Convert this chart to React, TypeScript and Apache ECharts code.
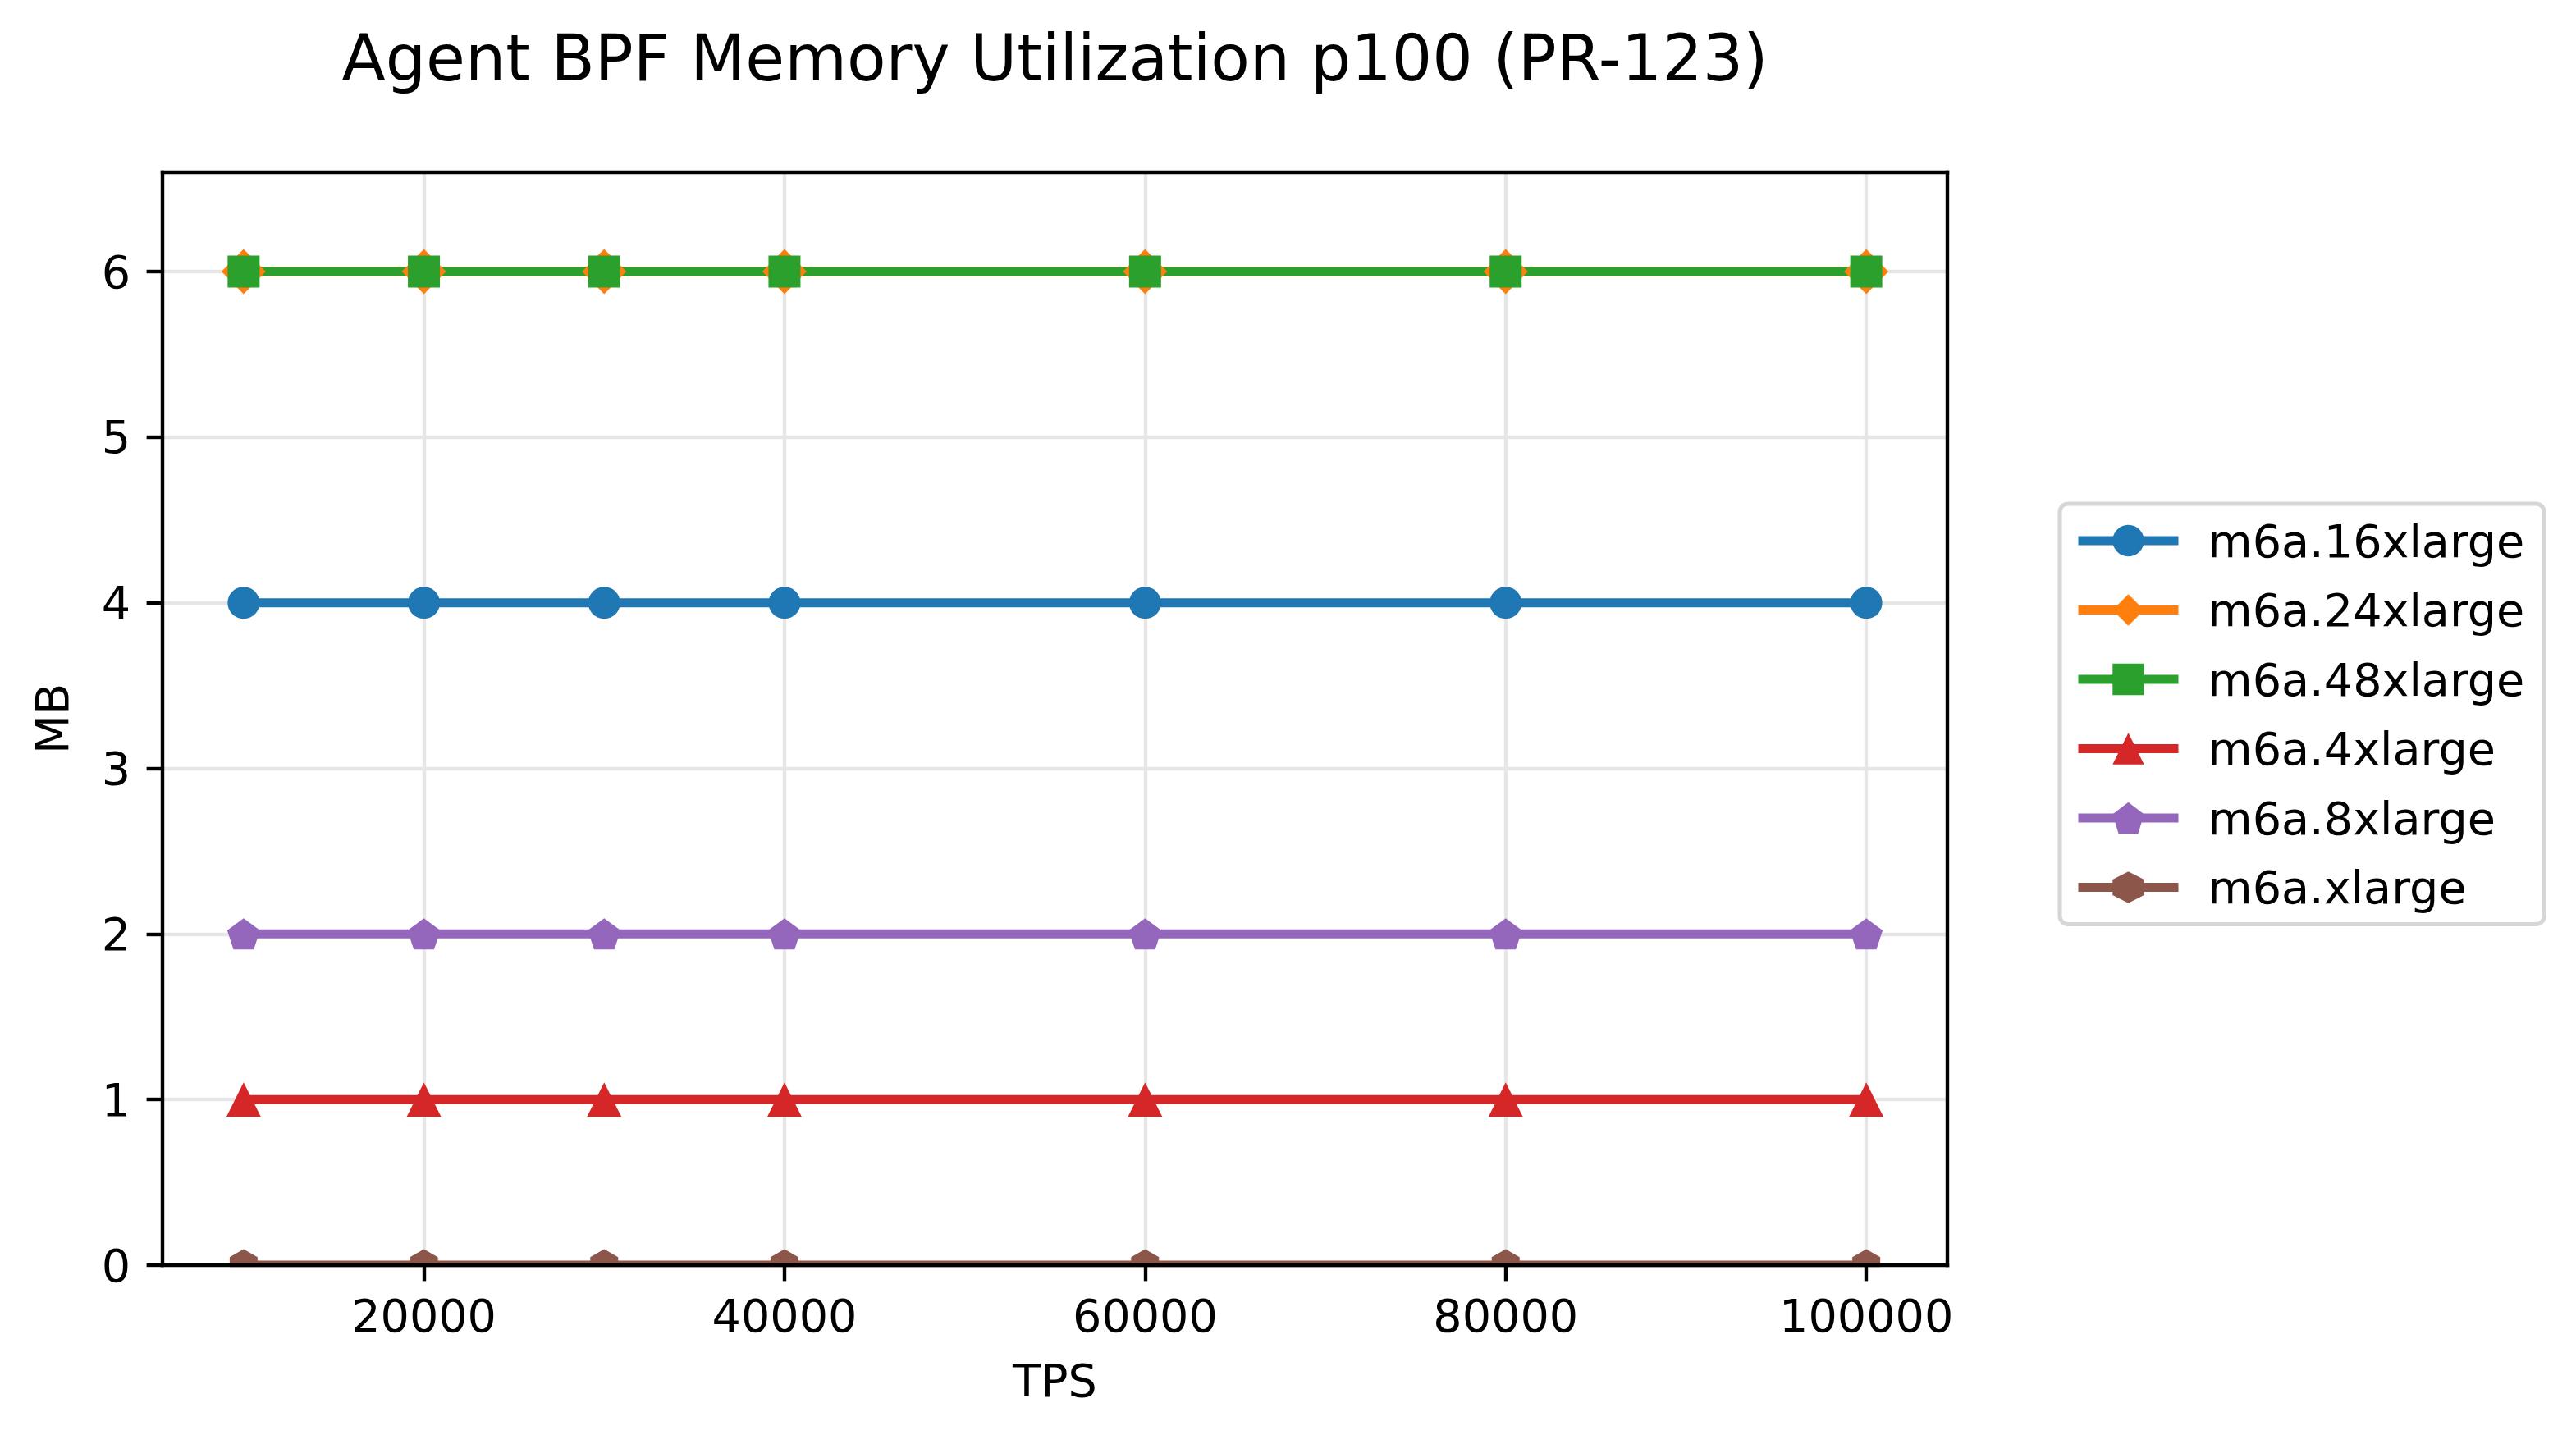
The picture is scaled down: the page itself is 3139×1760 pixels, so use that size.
import React, { useEffect, useRef } from "react";
import * as echarts from "echarts";

// ---- data ----
const tpsValues = [10000, 20000, 30000, 40000, 60000, 80000, 100000];
const seriesNames = ["m6a.16xlarge", "m6a.24xlarge", "m6a.48xlarge", "m6a.4xlarge", "m6a.8xlarge", "m6a.xlarge"];
const m6a16xlarge = [4, 4, 4, 4, 4, 4, 4];
const m6a24xlarge = [6, 6, 6, 6, 6, 6, 6];
const m6a48xlarge = [6, 6, 6, 6, 6, 6, 6];
const m6a4xlarge = [1, 1, 1, 1, 1, 1, 1];
const m6a8xlarge = [2, 2, 2, 2, 2, 2, 2];
const m6axlarge = [0, 0, 0, 0, 0, 0, 0];
const xTickValues = [20000, 40000, 60000, 80000, 100000];
const yTickValues = [0, 1, 2, 3, 4, 5, 6];

const FONT = "DejaVu Sans";
const PENTAGON = "path://M50,0 L97.55,34.55 L79.39,90.45 L20.61,90.45 L2.45,34.55 Z";
const HEXAGON = "path://M50,0 L93.3,25 L93.3,75 L50,100 L6.7,75 L6.7,25 Z";

const GRID = { left: 198, top: 210, width: 2175, height: 1332 };

export default function App() {
  const ref = useRef<HTMLDivElement>(null);

  useEffect(() => {
    if (!ref.current) return;
    const chart = echarts.init(ref.current, null, { renderer: "svg" });

    const styles = [
      { color: "#1f77b4", symbol: "circle", size: 39 },
      { color: "#ff7f0e", symbol: "diamond", size: [54, 55] },
      { color: "#2ca02c", symbol: "rect", size: 39 },
      { color: "#d62728", symbol: "triangle", size: 42 },
      { color: "#9467bd", symbol: PENTAGON, size: [40, 38] },
      { color: "#8c564b", symbol: HEXAGON, size: [34, 39] },
    ];
    const values = [m6a16xlarge, m6a24xlarge, m6a48xlarge, m6a4xlarge, m6a8xlarge, m6axlarge];

    const series = seriesNames.map((name, k) => ({
      type: "line",
      name,
      xAxisIndex: 0,
      yAxisIndex: 0,
      data: tpsValues.map((x, i) => [x, values[k][i]]),
      symbol: styles[k].symbol,
      symbolSize: styles[k].size,
      showSymbol: true,
      itemStyle: { color: styles[k].color },
      lineStyle: { color: styles[k].color, width: 11, type: "solid", opacity: 1 },
      z: 2,
    }));

    const axisLineStyle = { color: "#000", width: 4.4, cap: "square" };
    const gridLineStyle = { color: "#e6e6e6", width: 4.4 };

    chart.setOption({
      animation: false,
      backgroundColor: "#fff",
      title: {
        text: "Agent BPF Memory Utilization p100 (PR-123)",
        left: 1285.5,
        top: 32,
        textAlign: "center",
        padding: 0,
        textStyle: { fontFamily: FONT, fontSize: 77.8, fontWeight: "normal", color: "#000" },
      },
      grid: { ...GRID, containLabel: false, outerBoundsMode: "none" },
      legend: {
        orient: "vertical",
        left: 2510,
        top: 614,
        itemWidth: 122,
        itemHeight: 48,
        itemGap: 28.5,
        padding: [17, 24, 17, 17],
        borderColor: "#d6d6d6",
        borderWidth: 5,
        borderRadius: 10,
        backgroundColor: "#fff",
        lineStyle: { width: 11 },
        textStyle: { fontFamily: FONT, fontSize: 55.6, color: "#000", lineHeight: 56, padding: [0, 0, 0, 31] },
        data: seriesNames,
      },
      xAxis: [
        {
          type: "value",
          position: "bottom",
          min: 5500,
          max: 104500,
          name: "TPS",
          nameLocation: "middle",
          nameGap: 112,
          nameTextStyle: { fontFamily: FONT, fontSize: 55.6, color: "#000" },
          axisLine: { show: true, onZero: false, lineStyle: axisLineStyle },
          axisTick: { show: true, length: 19.4, lineStyle: { color: "#000", width: 4.4 }, customValues: xTickValues },
          axisLabel: {
            margin: 33,
            fontFamily: FONT,
            fontSize: 55.6,
            color: "#000",
            customValues: xTickValues,
            formatter: (v: number) => String(v),
          },
          splitLine: { show: false },
          z: 60,
        },
        {
          type: "value",
          position: "top",
          min: 5500,
          max: 104500,
          axisLine: { show: true, onZero: false, lineStyle: axisLineStyle },
          axisTick: { show: false, customValues: xTickValues },
          axisLabel: { show: false, customValues: xTickValues },
          splitLine: { show: true, lineStyle: gridLineStyle, customValues: xTickValues },
          z: 1,
        },
      ],
      yAxis: [
        {
          type: "value",
          position: "left",
          min: 0,
          max: 6.6,
          name: "MB",
          nameLocation: "middle",
          nameGap: 107,
          nameRotate: 90,
          nameTextStyle: { fontFamily: FONT, fontSize: 55.6, color: "#000" },
          axisLine: { show: true, onZero: false, lineStyle: axisLineStyle },
          axisTick: { show: true, length: 19.4, lineStyle: { color: "#000", width: 4.4 }, customValues: yTickValues },
          axisLabel: {
            margin: 39,
            fontFamily: FONT,
            fontSize: 55.6,
            color: "#000",
            customValues: yTickValues,
          },
          splitLine: { show: false },
          z: 60,
        },
        {
          type: "value",
          position: "right",
          min: 0,
          max: 6.6,
          axisLine: { show: true, onZero: false, lineStyle: axisLineStyle },
          axisTick: { show: false, customValues: yTickValues },
          axisLabel: { show: false, customValues: yTickValues },
          splitLine: { show: true, lineStyle: gridLineStyle, customValues: yTickValues },
          z: 0,
        },
      ],
      graphic: [
        {
          type: "rect",
          z: 50,
          silent: true,
          shape: { x: GRID.left + 2.5, y: GRID.top + GRID.height + 2.2, width: GRID.width - 5, height: 30 },
          style: { fill: "#fff" },
        },
      ],
      series,
    });

    return () => chart.dispose();
  }, []);

  return <div ref={ref} style={{ position: "absolute", left: 0, top: 0, width: 3139, height: 1760 }} />;
}
